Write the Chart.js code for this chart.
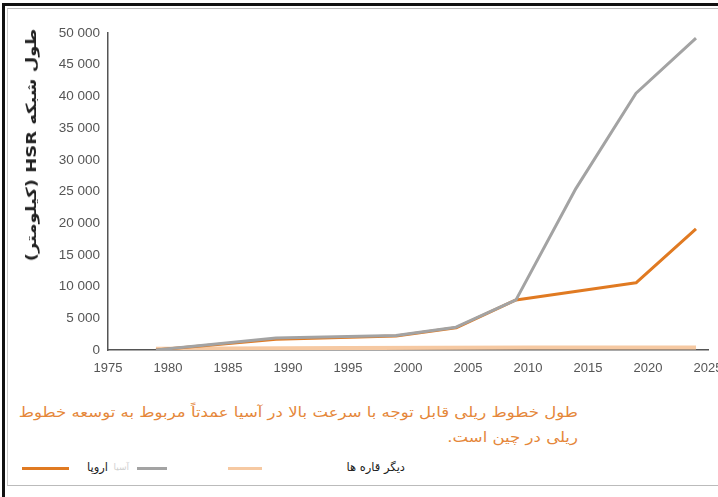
<!DOCTYPE html>
<html lang="fa">
<head>
<meta charset="utf-8">
<script src="https://cdn.jsdelivr.net/npm/chart.js@4/dist/chart.umd.min.js"></script>
<style>
  html, body { margin: 0; padding: 0; background: #fff; overflow: hidden; }
  body { width: 718px; height: 497px; position: relative; font-family: "DejaVu Sans", sans-serif; }
  .frame { position: absolute; left: 2px; top: 3px; width: 740px; height: 520px;
           border-top: 3px solid #111; border-left: 3px solid #111; }
  .inner { position: absolute; left: 7px; top: 8px; width: 740px; height: 476px;
           border-top: 1px solid #bbb; border-left: 1px solid #ccc; border-bottom: 1px solid #bbb; }
  #wrap { position: absolute; left: 0; top: 0; width: 740px; height: 390px; }
  .ytitle { position: absolute; left: 31px; top: 145px; transform: translate(-50%, -50%) rotate(-90deg) scaleX(1.28);
            white-space: nowrap; font-weight: bold; font-size: 14px; color: #222; direction: rtl; }
  .caption { position: absolute; right: 140px; top: 400px; direction: rtl; text-align: right; white-space: nowrap;
             color: #E5873A; font-size: 14px; line-height: 25px; transform: scaleX(1.18); transform-origin: right top; }
  .legend { position: absolute; top: 459px; left: 0; width: 718px; height: 20px; font-size: 11.5px; color: #222; }
  .legend span { position: absolute; white-space: nowrap; direction: rtl; }
  .legend i { position: absolute; height: 3px; }
</style>
</head>
<body>
<div class="frame"></div>
<div class="inner"></div>
<div id="wrap"><canvas id="c" width="740" height="390"></canvas></div>
<div class="ytitle">طول شبکه HSR (کیلومتر)</div>
<div class="caption">طول خطوط ریلی قابل توجه با سرعت بالا در آسیا عمدتاً مربوط به توسعه خطوط<br>ریلی در چین است.</div>
<div class="legend" id="legend"></div>
<script>
// High-speed rail network length by region (km)
const seriesNames = ['اروپا', 'آسیا', 'دیگر قاره ها'];

const europeYears = [1979, 1989, 1999, 2004, 2009, 2019, 2024];
const europeKm    = [0, 1700, 2200, 3500, 7900, 10600, 19100];

const asiaYears = [1979, 1989, 1999, 2004, 2009, 2014, 2019, 2024];
const asiaKm    = [0, 1900, 2300, 3600, 7900, 25500, 40500, 49200];

const otherYears = [1979, 1995, 2010, 2024];
const otherKm    = [200, 300, 400, 400];

const xTicks = [1975, 1980, 1985, 1990, 1995, 2000, 2005, 2010, 2015, 2020, 2025];
const yTicks = [0, 5000, 10000, 15000, 20000, 25000, 30000, 35000, 40000, 45000, 50000];

const colors = ['#E07A22', '#A3A3A3', '#F6C9A2'];

const toPoints = (xs, ys) => xs.map((x, i) => ({ x: x, y: ys[i] }));
const fmt = v => String(v).replace(/\B(?=(\d{3})+(?!\d))/g, ' ');

new Chart(document.getElementById('c'), {
  type: 'line',
  data: {
    datasets: [
      { label: seriesNames[0], data: toPoints(europeYears, europeKm), borderColor: colors[0], borderWidth: 3, order: 1 },
      { label: seriesNames[1], data: toPoints(asiaYears, asiaKm), borderColor: colors[1], borderWidth: 3, order: 0 },
      { label: seriesNames[2], data: toPoints(otherYears, otherKm), borderColor: colors[2], borderWidth: 4, order: 2 }
    ]
  },
  options: {
    responsive: false,
    animation: false,
    devicePixelRatio: 1,
    layout: { padding: { left: 0, right: 32, top: 33, bottom: 10 } },
    elements: { point: { radius: 0 }, line: { tension: 0, borderCapStyle: 'butt', borderJoinStyle: 'round' } },
    plugins: { legend: { display: false }, tooltip: { enabled: false } },
    scales: {
      x: {
        type: 'linear', min: 1975, max: 2025,
        afterBuildTicks: s => { s.ticks = xTicks.map(v => ({ value: v })); },
        afterFit: s => { s.height = 30; },
        grid: { display: false, drawTicks: false },
        border: { display: true, color: '#555', width: 1.5 },
        ticks: { padding: 11, color: '#555', font: { family: 'Liberation Sans', size: 13 }, maxRotation: 0, autoSkip: false, callback: v => String(v) }
      },
      y: {
        min: 0, max: 50000,
        afterBuildTicks: s => { s.ticks = yTicks.map(v => ({ value: v })); },
        afterFit: s => { s.width = 108; },
        grid: { display: false, drawTicks: false },
        border: { display: true, color: '#555', width: 1.5 },
        ticks: { padding: 8, color: '#555', font: { family: 'Liberation Sans', size: 13.5 }, callback: v => fmt(v) }
      }
    }
  }
});

// Legend row: swatches and names placed along the bottom
const legend = document.getElementById('legend');
const items = [
  { type: 'line', left: 22, width: 47, color: colors[0] },
  { type: 'text', right: 718 - 108, text: seriesNames[0], color: '#222', size: 11.5, top: 1 },
  { type: 'text', right: 718 - 129, text: seriesNames[1], color: '#d0d0d0', size: 9, top: 3 },
  { type: 'line', left: 137, width: 30, color: colors[1] },
  { type: 'line', left: 228, width: 34, color: colors[2] },
  { type: 'text', right: 718 - 405, text: seriesNames[2], color: '#222', size: 11.5, top: 1 }
];
items.forEach(it => {
  if (it.type === 'line') {
    const el = document.createElement('i');
    el.style.left = it.left + 'px'; el.style.width = it.width + 'px';
    el.style.top = '8px'; el.style.background = it.color;
    legend.appendChild(el);
  } else {
    const el = document.createElement('span');
    el.textContent = it.text; el.style.right = it.right + 'px';
    el.style.top = it.top + 'px'; el.style.color = it.color; el.style.fontSize = it.size + 'px';
    legend.appendChild(el);
  }
});
</script>
</body>
</html>
